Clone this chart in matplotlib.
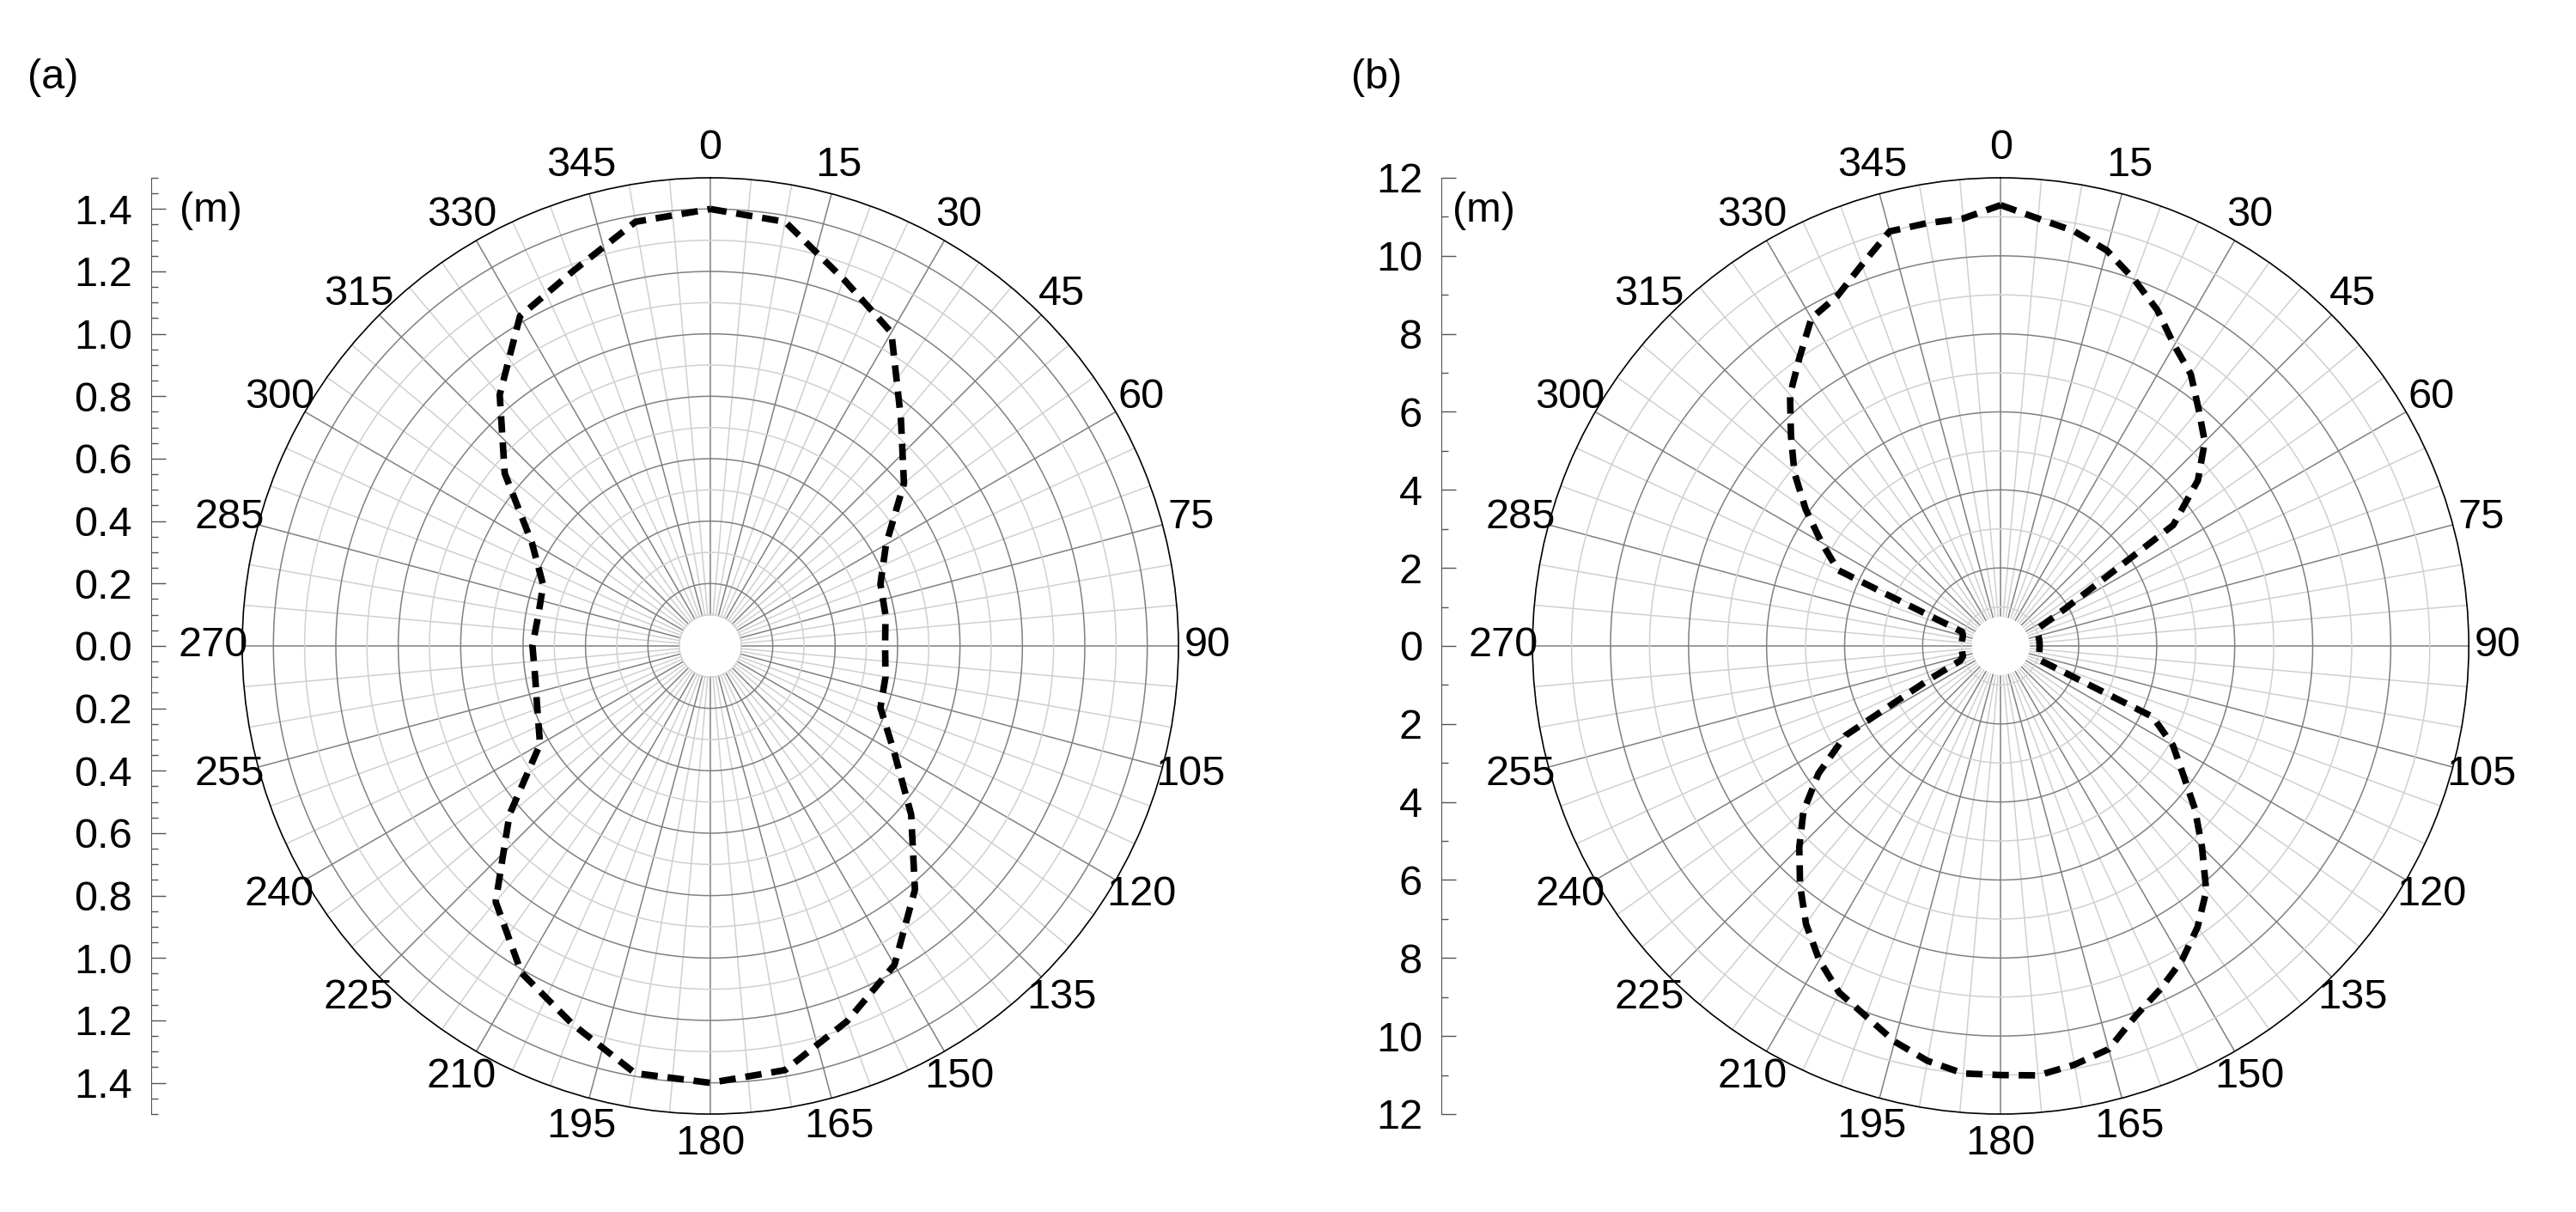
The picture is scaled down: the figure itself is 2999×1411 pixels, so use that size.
import numpy as np
import matplotlib
matplotlib.use("Agg")
import matplotlib.pyplot as plt
from matplotlib.ticker import MultipleLocator

plt.rcParams['font.family'] = ['Liberation Sans', 'DejaVu Sans']

ang_a = list(range(0, 360, 10))
r_a = [1.40, 1.38, 1.25, 1.16, 0.95, 0.81, 0.65, 0.58, 0.57, 0.56,
       0.57, 0.58, 0.68, 0.84, 1.02, 1.18, 1.28, 1.38, 1.40, 1.39,
       1.29, 1.21, 1.07, 0.84, 0.63, 0.59, 0.57, 0.57, 0.56, 0.57,
       0.66, 0.86, 1.05, 1.22, 1.28, 1.38]

ang_b = list(range(0, 360, 5))
r_b = [11.3, 11.0, 10.8, 10.5, 10.0, 9.5, 8.9, 8.5, 7.9, 7.4, 6.6, 5.4,
       1.9, 1.05, 1.0, 1.0, 1.0, 1.0, 1.0, 1.0, 1.0, 1.0, 1.1, 4.3,
       5.1, 5.7, 6.5, 7.3, 8.2, 8.8, 9.3, 9.7, 10.1, 10.7, 10.9, 11.05,
       11.0, 11.0, 10.8, 10.5, 10.1, 9.8, 9.3, 8.7, 8.0, 7.3, 6.6, 5.7,
       4.6, 2.0, 1.1, 1.0, 1.0, 1.0, 1.0, 1.0, 1.0, 1.0, 1.05, 4.6,
       5.3, 6.1, 6.9, 7.6, 8.4, 9.0, 9.7, 9.9, 10.4, 11.0, 11.0, 11.0]

panels = [
    dict(ang=ang_a, r=r_a, rmax=1.5, hole=0.1, major=0.2, minor=0.1, tminor=0.05,
         ticks=np.round(np.arange(-1.4, 1.41, 0.2), 1), fmt="{:.1f}", label="(a)",
         x0=0.0, lx=0.0108, mx=0.0817),
    dict(ang=ang_b, r=r_b, rmax=12.0, hole=0.76, major=2.0, minor=1.0, tminor=1.0,
         ticks=np.arange(-12, 13, 2), fmt="{:.0f}", label="(b)",
         x0=0.5009, lx=0.5245, mx=0.576),
]

fig = plt.figure(figsize=(29.99, 14.11), dpi=100)
FS = 35
BOT, H = 0.0808, 0.7725

for p in panels:
    x0 = p['x0']
    ax = fig.add_axes([x0 + 0.094, BOT, 0.3635, H], projection='polar')
    ax.set_theta_zero_location('N')
    ax.set_theta_direction(-1)
    ax.set_ylim(0, p['rmax'])
    ax.grid(False)
    ax.set_yticks([])
    degs = np.arange(0, 360, 15)
    ax.set_xticks(np.deg2rad(degs))
    ax.set_xticklabels([str(d) for d in degs], fontsize=FS)
    ax.tick_params(axis='x', pad=14)
    ax.spines['polar'].set_linewidth(1.2)
    for d in range(0, 360, 5):
        major = d % 15 == 0
        ax.plot([np.deg2rad(d)] * 2, [p['hole'], p['rmax']],
                color='#808080' if major else '#d0d0d0', lw=1.1, zorder=1)
    th = np.linspace(0, 2 * np.pi, 400)
    rr = np.arange(p['minor'], p['rmax'] - 1e-9, p['minor'])
    for rv in rr:
        if rv < p['hole'] - 1e-9:
            continue
        major = abs(rv / p['major'] - round(rv / p['major'])) < 1e-6
        ax.plot(th, np.full_like(th, rv), color='#808080' if major else '#d0d0d0',
                lw=1.1, zorder=1)
    t = np.deg2rad(np.array(p['ang'] + [p['ang'][0]]))
    r = np.array(p['r'] + [p['r'][0]])
    ax.plot(t, r, color='black', lw=5.5, ls=(0, (2.5, 1.5)), zorder=3)

    ax2 = fig.add_axes([x0 + 0.0587, BOT, 0.0005, H])
    ax2.set_ylim(-p['rmax'], p['rmax'])
    ax2.invert_yaxis()
    for s in ['top', 'right', 'bottom']:
        ax2.spines[s].set_visible(False)
    ax2.spines['left'].set_color('#555555')
    ax2.set_xticks([])
    ax2.set_yticks(p['ticks'])
    ax2.set_yticklabels([p['fmt'].format(abs(v)) for v in p['ticks']], fontsize=FS)
    ax2.yaxis.set_minor_locator(MultipleLocator(p['tminor']))
    ax2.tick_params(axis='y', which='major', direction='in', length=12, width=1, pad=16, color='#555555')
    ax2.tick_params(axis='y', which='minor', direction='in', length=6, width=1, color='#555555')
    fig.text(p['mx'], 0.826, "(m)", fontsize=FS, ha='center', va='center')
    fig.text(p['lx'], 0.936, p['label'], fontsize=FS, ha='left', va='center')

fig.savefig("out.png", dpi=100)
